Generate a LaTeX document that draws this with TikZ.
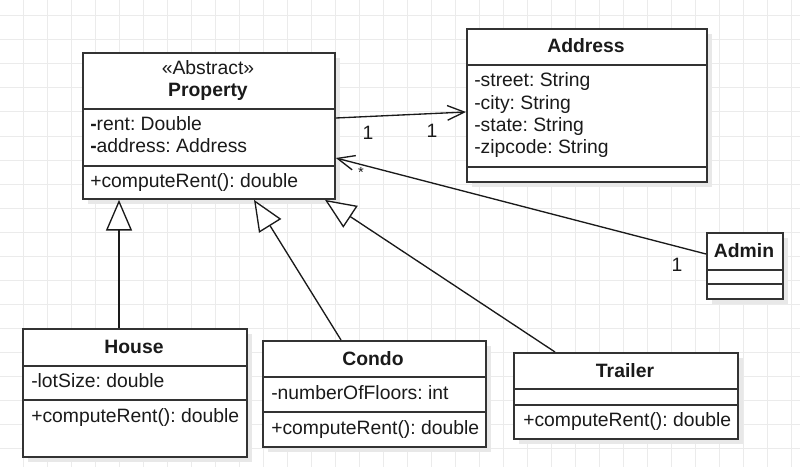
\documentclass[tikz,border=0pt]{standalone}
\usepackage{fontspec}
\setmainfont{Liberation Sans}
\usetikzlibrary{arrows.meta,shadows}
\definecolor{Ink}{HTML}{1A1A1A}
\definecolor{Edge}{HTML}{333333}
\definecolor{Grid}{HTML}{EBEBEB}
\definecolor{Shade}{HTML}{E8E8E8}
\frenchspacing

\begin{document}
\begin{tikzpicture}[x=0.75pt,y=-0.75pt,
  cls/.style 2 args={draw=Edge,line width=1.4pt,fill=white,anchor=north west,inner sep=0pt,
    minimum width=#1*0.75pt,minimum height=#2*0.75pt,
    drop shadow={shadow xshift=3.5pt,shadow yshift=-3.5pt,fill=Shade,opacity=1}},
  sepline/.style={draw=Edge,line width=1pt},
  txt/.style={font=\fontsize{14.5}{17}\selectfont,text=Ink,inner sep=0pt,text height=10.4pt,text depth=0pt},
  attr/.style={txt,anchor=west},
  hdr/.style={txt,font=\fontsize{14.5}{17}\selectfont\bfseries},
  assoc/.style={draw=Ink,line width=1pt,-{Straight Barb[length=12.75pt,width=11pt,line width=1pt]}},
  inherit/.style={draw=Ink,line width=1pt,-{Triangle[open,length=23pt,width=19.5pt,line width=1pt,fill=white]}}]
  \useasboundingbox (0,0) rectangle (800,467);
  \fill[white] (0,0) rectangle (800,467);
  \foreach \gx in {23,47,...,791}
    \draw[Grid,line width=0.75pt] (\gx,0) -- (\gx,467);
  \foreach \gy in {16,40,...,460}
    \draw[Grid,line width=0.75pt] (0,\gy) -- (800,\gy);

  % classes
  \node[cls={252}{146}] (prop) at (82,52) {};
  \node[cls={240}{153}] (addr) at (466,28) {};
  \node[cls={76}{66}] (admin) at (706,232) {};
  \node[cls={224}{128}] (house) at (22,328) {};
  \node[cls={223}{106}] (condo) at (262,340) {};
  \node[cls={224}{86}] (trailer) at (513,352) {};

  \foreach \n/\ya/\yb in {prop/109/166,addr/65/167,admin/270/284,house/366/400,condo/377/412,trailer/389/405} {
    \draw[sepline] (\n.west |- 0,\ya) -- (\n.east |- 0,\ya);
    \draw[sepline] (\n.west |- 0,\yb) -- (\n.east |- 0,\yb);
  }

  \node[txt] (prop-st) at (208,68) {«Abstract»};
  \node[hdr] (prop-nm) at (208,90) {Property};
  \node[attr] (prop-a1) at (90,124) {\textbf{-}rent: Double};
  \node[attr] (prop-a2) at (90,146) {\textbf{-}address: Address};
  \node[attr] (prop-o1) at (90,181) {+computeRent(): double};

  \node[hdr] (addr-nm) at (586,46) {Address};
  \foreach \lab/\y [count=\k] in {street/80,city/103,state/125,zipcode/147}
    \node[attr] (addr-a\k) at (474,\y) {-\lab: String};

  \node[hdr] (admin-nm) at (744,251) {Admin};

  \node[hdr] (house-nm) at (134,347) {House};
  \node[attr] (house-a1) at (31,381) {-lotSize: double};
  \node[attr] (house-o1) at (31,416) {+computeRent(): double};

  \node[hdr] (condo-nm) at (373,359) {Condo};
  \node[attr] (condo-a1) at (271,393) {-numberOfFloors: int};
  \node[attr] (condo-o1) at (271,428) {+computeRent(): double};

  \node[hdr] (trailer-nm) at (625,371) {Trailer};
  \node[attr] (trailer-o1) at (523,420) {+computeRent(): double};

  % associations
  \draw[assoc] (prop.east |- 0,118) -- (addr.west |- 0,112);
  \node[txt] (m1) at (368,133) {1};
  \node[txt] (m2) at (432,131) {1};
  \draw[assoc] (admin.west |- 0,254) -- (prop.east |- 0,158);
  \node[txt,font=\fontsize{11}{13}\selectfont] (m3) at (361,171) {*};
  \node[txt] (m4) at (677,265) {1};

  % generalisation
  \draw[inherit] (house.north -| 119,0) -- (prop.south -| 119,0);
  \draw[inherit] (condo.north -| 341,0) -- (prop.south -| 254,0);
  \draw[inherit] (trailer.north -| 555,0) -- (prop.south -| 325,0);
\end{tikzpicture}
\end{document}
